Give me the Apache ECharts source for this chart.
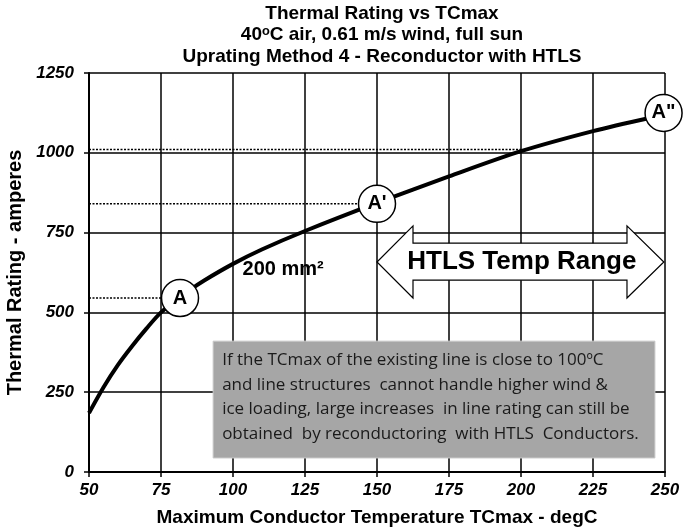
<!DOCTYPE html>
<html><head><meta charset="utf-8">
<script src="https://cdn.jsdelivr.net/npm/echarts@6/dist/echarts.min.js"></script>
<style>html,body{margin:0;padding:0;background:#fff}#c{width:685px;height:531px}</style>
</head><body><div id="c"></div>
<script>
const titleLines = ['Thermal Rating vs TCmax', '40\u1d52C air, 0.61 m/s wind, full sun', 'Uprating Method 4 - Reconductor with HTLS'];
const xTicks = [50, 75, 100, 125, 150, 175, 200, 225, 250];
const yTicks = [0, 250, 500, 750, 1000, 1250];
const curveX = [50, 55, 60, 65, 70, 75, 80, 85, 90, 100, 110, 125, 150, 175, 200, 225, 245];
const curveY = [185, 265, 335, 395, 450, 500, 535, 570, 600, 652, 697, 755, 843, 926, 1005, 1068, 1110];
const pointNames = ['A', "A'", 'A"'];
const pointX = [81.6, 150, 249.5];
const pointY = [545, 840, 1125];
const refLevels = [1010, 840, 545];
const refEndX = [200, 143.6, 75.3];
const noteLines = ['If the TCmax of the existing line is close to 100\u00baC', 'and line structures  cannot handle higher wind &', 'ice loading, large increases  in line rating can still be', 'obtained  by reconductoring  with HTLS  Conductors.'];
const arrowText = 'HTLS Temp Range';
const curveLabel = '200 mm\u00b2';

const chart = echarts.init(document.getElementById('c'), null, {renderer: 'canvas'});
const F = '"Liberation Sans", Arial, sans-serif';
const curveData = curveX.map((x, i) => [x, curveY[i]]);
const refSeries = refLevels.map((y, i) => ({
  type: 'line', data: [[50, y], [refEndX[i], y]], symbol: 'none', silent: true,
  lineStyle: {color: '#000', width: 1.5, type: [2, 1.5]}, z: 3
}));
const arrowPts = [[150,658],[162.5,771],[162.5,717],[236.8,717],[236.8,771],[249.6,658],[236.8,545],[236.8,601],[162.5,601],[162.5,545]];

const option = {
  animation: false,
  title: {
    text: titleLines.join('\n'), left: 377, top: -2, textAlign: 'center',
    textStyle: {fontFamily: F, fontWeight: 'bold', fontSize: 19, lineHeight: 21.5, color: '#000'}
  },
  grid: {left: 89, right: 20, top: 73, bottom: 59, containLabel: false, outerBoundsMode: 'none'},
  xAxis: {
    type: 'value', min: 50, max: 250, interval: 25,
    name: 'Maximum Conductor Temperature TCmax - degC', nameLocation: 'middle', nameGap: 36,
    nameTextStyle: {fontFamily: F, fontWeight: 'bold', fontSize: 19, color: '#000'},
    axisLine: {lineStyle: {color: '#000', width: 2}},
    axisTick: {show: true, length: 5, lineStyle: {color: '#000', width: 1.5}},
    axisLabel: {fontFamily: F, fontWeight: 'bold', fontStyle: 'italic', fontSize: 17, color: '#000', margin: 10, formatter: v => String(v)},
    splitLine: {show: true, lineStyle: {color: '#000', width: 1.5}}
  },
  yAxis: {
    type: 'value', min: 0, max: 1250, interval: 250,
    name: 'Thermal Rating - amperes', nameLocation: 'middle', nameGap: 64,
    nameTextStyle: {fontFamily: F, fontWeight: 'bold', fontSize: 20, color: '#000'},
    axisLine: {show: true, lineStyle: {color: '#000', width: 2}},
    axisTick: {show: true, length: 5, lineStyle: {color: '#000', width: 1.5}},
    axisLabel: {fontFamily: F, fontWeight: 'bold', fontStyle: 'italic', fontSize: 17, color: '#000', margin: 15, formatter: v => String(v)},
    splitLine: {show: true, lineStyle: {color: '#000', width: 1.5}}
  },
  series: [
    ...refSeries,
    {type: 'line', data: curveData, smooth: 0.3, symbol: 'none', lineStyle: {color: '#000', width: 4}, z: 4, silent: true},
    {
      type: 'custom', z: 5, silent: true, clip: false,
      data: [[0]],
      renderItem: (params, api) => {
        const pts = arrowPts.map(p => api.coord(p));
        const c = api.coord([200.3, 658]);
        return {type: 'group', children: [
          {type: 'polygon', shape: {points: pts}, style: {fill: '#fff', stroke: '#000', lineWidth: 1.2}},
          {type: 'text', x: c[0], y: c[1], style: {text: arrowText, fill: '#000', font: 'bold 26px ' + F, align: 'center', verticalAlign: 'middle'}}
        ]};
      }
    },
    {
      type: 'custom', z: 5, silent: true, clip: false,
      data: [[0]],
      renderItem: (params, api) => {
        const p0 = api.coord([93.1, 410]);
        const p1 = api.coord([246.5, 44]);
        const children = [{type: 'rect', shape: {x: p0[0], y: p0[1], width: p1[0] - p0[0], height: p1[1] - p0[1]}, style: {fill: '#a6a6a6', stroke: '#c8c8c8', lineWidth: 1}}];
        noteLines.forEach((t, i) => children.push({type: 'text', x: p0[0] + 9, y: p0[1] + 19 + i * 24.7, style: {text: t, fill: '#1a1a1a', font: '17px "Open Sans", sans-serif', align: 'left', verticalAlign: 'middle'}}));
        const lp = api.coord([103.3, 633]);
        children.push({type: 'text', x: lp[0], y: lp[1], style: {text: curveLabel, fill: '#000', font: 'bold 20px ' + F, align: 'left', verticalAlign: 'middle'}});
        return {type: 'group', children};
      }
    },
    {
      type: 'scatter', z: 6, silent: true, clip: false,
      data: pointX.map((x, i) => [x, pointY[i], pointNames[i]]),
      symbol: 'circle', symbolSize: 37,
      itemStyle: {color: '#fff', borderColor: '#000', borderWidth: 1.5, opacity: 1},
      label: {show: true, position: 'inside', formatter: p => p.data[2], fontFamily: F, fontWeight: 'bold', fontSize: 20, color: '#000'}
    }
  ]
};
chart.setOption(option);
</script></body></html>
